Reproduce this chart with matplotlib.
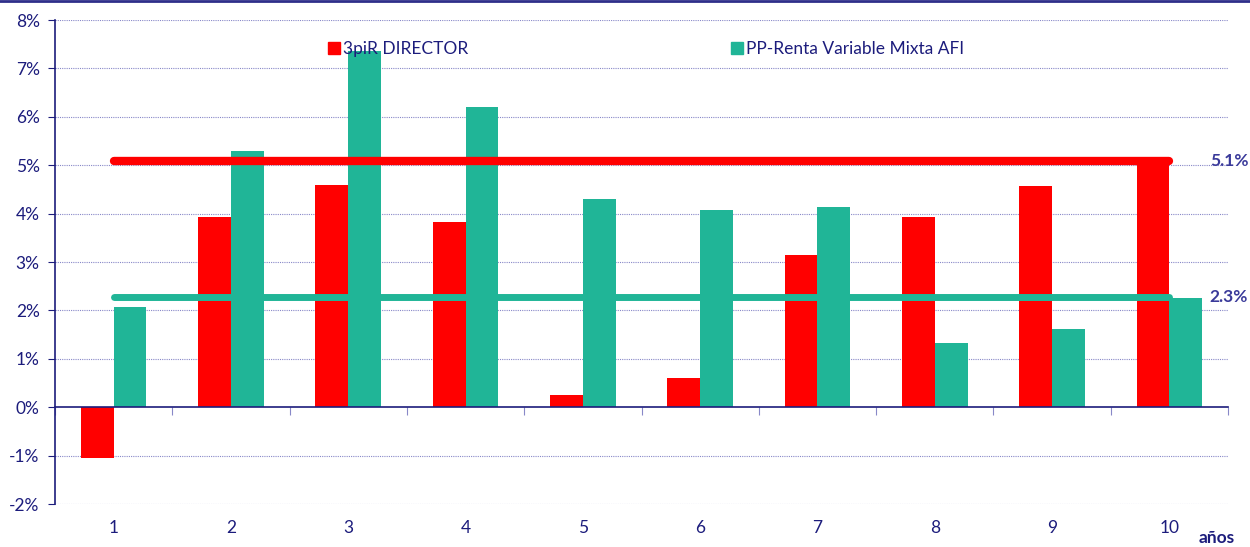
import numpy as np
import matplotlib
matplotlib.use('Agg')
import matplotlib.pyplot as plt
import matplotlib.transforms as mtransforms
from matplotlib.lines import Line2D

plt.rcParams['font.family'] = ['Lato', 'DejaVu Sans']

years = [1, 2, 3, 4, 5, 6, 7, 8, 9, 10]
director = [-1.05, 3.93, 4.60, 3.83, 0.25, 0.60, 3.15, 3.93, 4.57, 5.13]
mixta = [2.08, 5.30, 7.35, 6.20, 4.30, 4.08, 4.13, 1.33, 1.62, 2.25]
avg_director = 5.09
avg_mixta = 2.27
avg_labels = ['5.1%', '2.3%']
series_names = ['3piR DIRECTOR', 'PP-Renta Variable Mixta AFI']

navy = '#1c1c7c'
red = '#ff0000'
green = '#20b597'

fig = plt.figure(figsize=(12.5, 5.47), dpi=100)
ax = fig.add_axes([0.044, 0.0786, 0.9384, 0.8848])

x = np.array(years)
w = 0.28
ax.bar(x - w / 2, director, width=w, color=red, zorder=2)
ax.bar(x + w / 2, mixta, width=w, color=green, zorder=2)

ax.plot([x[0], x[-1]], [avg_director, avg_director], color=red, lw=6,
        solid_capstyle='round', zorder=3)
ax.plot([x[0], x[-1]], [avg_mixta, avg_mixta], color=green, lw=5,
        solid_capstyle='round', zorder=3)

ax.set_xlim(0.5, 10.5)
ax.set_ylim(-2, 8)
ax.set_yticks(range(-2, 9))
ax.set_yticklabels([f'{v}%' for v in range(-2, 9)], fontsize=12.5, color=navy)
ax.tick_params(axis='y', direction='out', length=5, color=navy, pad=6)

for v in range(-2, 9):
    if v != 0:
        ax.axhline(v, color='#8888c8', lw=0.8, ls=(0, (1, 1)), zorder=1)

# zero axis with category separator ticks
ax.spines['bottom'].set_position(('data', 0))
ax.spines['bottom'].set_color(navy)
ax.spines['bottom'].set_linewidth(1.2)
ax.set_xticks(np.arange(0.5, 11, 1))
ax.set_xticklabels([])
ax.tick_params(axis='x', direction='out', length=6, color='#8888c8')

ax.spines['left'].set_color(navy)
ax.spines['left'].set_linewidth(1.2)
ax.spines['top'].set_visible(False)
ax.spines['right'].set_visible(False)

trans = mtransforms.blended_transform_factory(ax.transData, ax.transAxes)
for yr in years:
    ax.text(yr, -0.05, str(yr), transform=trans, ha='center', va='center',
            fontsize=12.5, color=navy)
ax.text(0.9906, -0.07, 'años', transform=ax.transAxes, ha='center', va='center',
        fontsize=12.5, color=navy, fontweight='bold')

trans2 = mtransforms.blended_transform_factory(ax.transAxes, ax.transData)
ax.text(0.985, avg_director, avg_labels[0], transform=trans2, ha='left', va='center',
        fontsize=12.5, color='#3a3a9a', fontweight='bold', clip_on=False)
ax.text(0.984, avg_mixta, avg_labels[1], transform=trans2, ha='left', va='center',
        fontsize=12.5, color='#3a3a9a', fontweight='bold', clip_on=False)

handles = [Line2D([], [], marker='s', ls='', color=red, markersize=9),
           Line2D([], [], marker='s', ls='', color=green, markersize=9)]
leg = ax.legend(handles, series_names, ncol=2, loc='center', bbox_to_anchor=(0.503, 0.94),
                frameon=False, fontsize=12.5, handletextpad=0.0, columnspacing=15.0,
                handlelength=1.0)
for t in leg.get_texts():
    t.set_color(navy)

fig.add_artist(Line2D([0, 1], [0.998, 0.998], color='#2e2e8a', lw=2,
                      transform=fig.transFigure))

fig.savefig('out.png', dpi=100)
